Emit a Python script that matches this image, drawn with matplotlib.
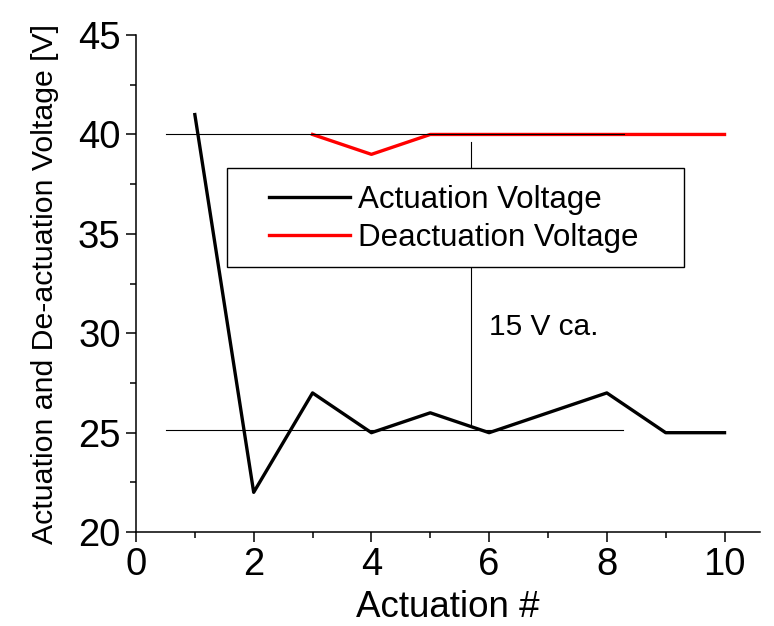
import matplotlib
matplotlib.use("Agg")
import matplotlib.pyplot as plt
from matplotlib.ticker import MultipleLocator
from matplotlib.patches import Rectangle

plt.rcParams['font.family'] = ['Liberation Sans', 'DejaVu Sans']

act_x = [1, 2, 3, 4, 5, 6, 7, 8, 9, 10]
act_y = [41, 22, 27, 25, 26, 25, 26, 27, 25, 25]
deact_x = [3, 4, 5, 6, 7, 8, 9, 10]
deact_y = [40, 39, 40, 40, 40, 40, 40, 40]

fig = plt.figure(figsize=(7.74, 6.26), dpi=100)
ax = fig.add_axes([0.1757, 0.150, 0.806, 0.794])

ax.plot(act_x, act_y, color='black', lw=2.4, label='Actuation Voltage', zorder=2)
ax.plot(deact_x, deact_y, color='#ff0000', lw=2.4, label='Deactuation Voltage', zorder=2)

# guide lines
ax.plot([0.51, 8.3], [40, 40], color='black', lw=0.8, zorder=3)
ax.plot([0.51, 8.27], [25.13, 25.13], color='black', lw=0.8, zorder=3)
ax.plot([5.70, 5.70], [25.38, 39.62], color='black', lw=0.8, zorder=3)
ax.text(5.99, 30.3, '15 V ca.', fontsize=21.5, va='center', ha='left')

ax.set_xlim(0, 10.6)
ax.set_ylim(20, 45)
ax.xaxis.set_major_locator(MultipleLocator(2))
ax.xaxis.set_minor_locator(MultipleLocator(1))
ax.yaxis.set_major_locator(MultipleLocator(5))
ax.yaxis.set_minor_locator(MultipleLocator(2.5))
for s in ['top', 'right']:
    ax.spines[s].set_visible(False)
for s in ['left', 'bottom']:
    ax.spines[s].set_linewidth(1.1)
ax.tick_params(which='major', direction='out', length=7, width=1.1, labelsize=27.5, pad=4)
ax.tick_params(which='minor', direction='out', length=4, width=1.1)

ax.set_xlabel('Actuation #', fontsize=26.5, labelpad=5)
ax.set_ylabel('Actuation and De-actuation Voltage [V]', fontsize=21.8, labelpad=14)

# legend frame
ax.add_patch(Rectangle((0.1458, 0.533), 0.878 - 0.1458, 0.732 - 0.533, transform=ax.transAxes,
                       facecolor='white', edgecolor='black', lw=1.0, zorder=4))
leg = ax.legend(loc='upper left', bbox_to_anchor=(0.213, 0.698),
                fontsize=22.5, frameon=False,
                handlelength=2.6, handletextpad=0.25, borderpad=0, labelspacing=0.25,
                borderaxespad=0)
leg.set_zorder(5)

fig.savefig('out.png', dpi=100)
